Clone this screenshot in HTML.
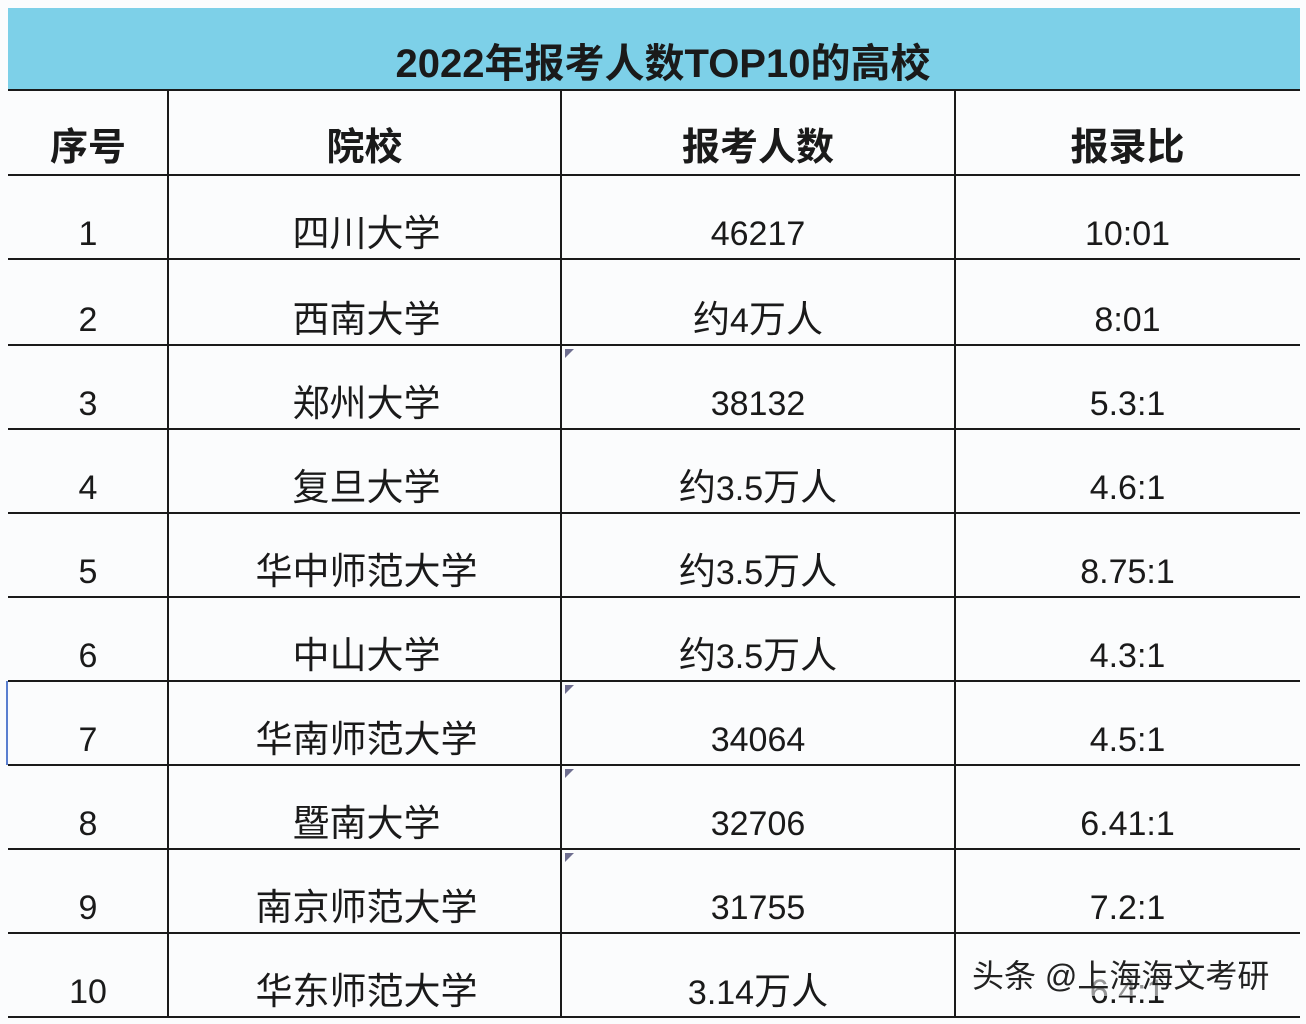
<!DOCTYPE html>
<html><head><meta charset="utf-8"><style>
body{margin:0;width:1306px;height:1024px;background:#fbfcfd;position:relative;overflow:hidden;font-family:"Liberation Sans","Noto Sans CJK SC",sans-serif;color:#1a1a1a}
.t{position:absolute;left:8px;top:8px;width:1292px;height:82px;background:#7dd0e8}
.h{position:absolute;height:2px;background:#1a1a1a;left:8px;width:1292px}
.v{position:absolute;width:2px;background:#1a1a1a}
.c{position:absolute;text-align:center;line-height:40px;font-size:34px;white-space:nowrap}
.k{font-size:37px}
.b{font-weight:bold;font-size:38px}
.tri{position:absolute;width:0;height:0;border-top:9px solid #6e6e90;border-right:9px solid transparent}
</style></head><body>
<div class="t"></div>
<div class="c b" style="left:8px;width:1310px;top:44px;font-size:40px">2022年报考人数TOP10的高校</div>
<div class="h" style="top:89px"></div>
<div class="h" style="top:174px"></div>
<div class="h" style="top:258px"></div>
<div class="h" style="top:344px"></div>
<div class="h" style="top:428px"></div>
<div class="h" style="top:512px"></div>
<div class="h" style="top:596px"></div>
<div class="h" style="top:680px"></div>
<div class="h" style="top:764px"></div>
<div class="h" style="top:848px"></div>
<div class="h" style="top:932px"></div>
<div class="h" style="top:1016px"></div>
<div class="v" style="left:167px;top:90px;height:928px"></div>
<div class="v" style="left:560px;top:90px;height:928px"></div>
<div class="v" style="left:954px;top:90px;height:928px"></div>
<div style="position:absolute;left:6px;top:681px;width:2px;height:84px;background:#5a7fd0"></div>
<div class="tri" style="left:565px;top:349px"></div>
<div class="tri" style="left:565px;top:685px"></div>
<div class="tri" style="left:565px;top:769px"></div>
<div class="tri" style="left:565px;top:853px"></div>

<div class="c b" style="left:8px;width:160px;top:128px">序号</div>
<div class="c b" style="left:168px;width:393px;top:128px">院校</div>
<div class="c b" style="left:561px;width:394px;top:128px">报考人数</div>
<div class="c b" style="left:955px;width:345px;top:128px">报录比</div>

<div class="c" style="left:8px;width:160px;top:214px">1</div><div class="c k" style="left:170px;width:393px;top:214px">四川大学</div><div class="c" style="left:561px;width:394px;top:214px">46217</div><div class="c" style="left:955px;width:345px;top:214px">10:01</div>
<div class="c" style="left:8px;width:160px;top:300px">2</div><div class="c k" style="left:170px;width:393px;top:300px">西南大学</div><div class="c" style="left:561px;width:394px;top:300px"><span class="k">约</span>4<span class="k">万人</span></div><div class="c" style="left:955px;width:345px;top:300px">8:01</div>
<div class="c" style="left:8px;width:160px;top:384px">3</div><div class="c k" style="left:170px;width:393px;top:384px">郑州大学</div><div class="c" style="left:561px;width:394px;top:384px">38132</div><div class="c" style="left:955px;width:345px;top:384px">5.3:1</div>
<div class="c" style="left:8px;width:160px;top:468px">4</div><div class="c k" style="left:170px;width:393px;top:468px">复旦大学</div><div class="c" style="left:561px;width:394px;top:468px"><span class="k">约</span>3.5<span class="k">万人</span></div><div class="c" style="left:955px;width:345px;top:468px">4.6:1</div>
<div class="c" style="left:8px;width:160px;top:552px">5</div><div class="c k" style="left:170px;width:393px;top:552px">华中师范大学</div><div class="c" style="left:561px;width:394px;top:552px"><span class="k">约</span>3.5<span class="k">万人</span></div><div class="c" style="left:955px;width:345px;top:552px">8.75:1</div>
<div class="c" style="left:8px;width:160px;top:636px">6</div><div class="c k" style="left:170px;width:393px;top:636px">中山大学</div><div class="c" style="left:561px;width:394px;top:636px"><span class="k">约</span>3.5<span class="k">万人</span></div><div class="c" style="left:955px;width:345px;top:636px">4.3:1</div>
<div class="c" style="left:8px;width:160px;top:720px">7</div><div class="c k" style="left:170px;width:393px;top:720px">华南师范大学</div><div class="c" style="left:561px;width:394px;top:720px">34064</div><div class="c" style="left:955px;width:345px;top:720px">4.5:1</div>
<div class="c" style="left:8px;width:160px;top:804px">8</div><div class="c k" style="left:170px;width:393px;top:804px">暨南大学</div><div class="c" style="left:561px;width:394px;top:804px">32706</div><div class="c" style="left:955px;width:345px;top:804px">6.41:1</div>
<div class="c" style="left:8px;width:160px;top:888px">9</div><div class="c k" style="left:170px;width:393px;top:888px">南京师范大学</div><div class="c" style="left:561px;width:394px;top:888px">31755</div><div class="c" style="left:955px;width:345px;top:888px">7.2:1</div>
<div class="c" style="left:8px;width:160px;top:972px">10</div><div class="c k" style="left:170px;width:393px;top:972px">华东师范大学</div><div class="c" style="left:561px;width:394px;top:972px">3.14<span class="k">万人</span></div><div class="c" style="left:955px;width:345px;top:972px">6.4:1</div>
<div class="c" style="left:972px;top:956px;font-size:32px;color:#222;background:rgba(251,252,253,0.55)">头条 @上海海文考研</div>
</body></html>
